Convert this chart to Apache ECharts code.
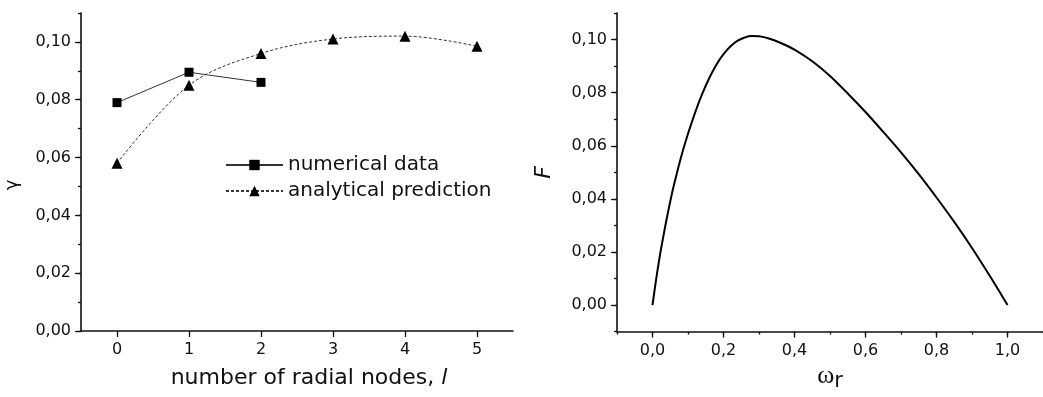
<!DOCTYPE html>
<html>
<head>
<meta charset="utf-8">
<script src="https://cdn.jsdelivr.net/npm/echarts@6/dist/echarts.min.js"></script>
<style>
  html, body { margin: 0; padding: 0; background: #fff; }
  #chart { width: 1043px; height: 397px; }
</style>
</head>
<body>
<div id="chart"></div>
<script>
  // left panel: growth rate vs number of radial nodes
  const nodeCategories = ['0', '1', '2', '3', '4', '5'];
  const numericalGamma = [0.079, 0.0895, 0.086];
  const analyticalGamma = [0.058, 0.085, 0.096, 0.101, 0.102, 0.0985];
  const gammaTicks = [0, 0.02, 0.04, 0.06, 0.08, 0.10];

  // right panel: F(omega_r)
  const omegaR = [0, 0.01, 0.02, 0.03, 0.04, 0.05, 0.06, 0.08, 0.10, 0.12, 0.14, 0.16, 0.18, 0.20, 0.22, 0.24, 0.26, 0.28,
                  0.30, 0.33, 0.36, 0.40, 0.45, 0.50, 0.55, 0.60, 0.65, 0.70, 0.75, 0.80, 0.85, 0.90, 0.95, 1.0];
  const fValues = [0, 0.0095, 0.018, 0.0255, 0.0325, 0.039, 0.045, 0.0555, 0.0645, 0.0725, 0.0795, 0.0855, 0.0905, 0.0945,
                   0.0975, 0.0996, 0.1008, 0.1013, 0.1012, 0.1003, 0.0988, 0.0962, 0.0918, 0.0863, 0.0797, 0.0727, 0.0652,
                   0.0575, 0.0493, 0.0405, 0.0313, 0.0215, 0.011, 0];
  const omegaTicks = [0, 0.2, 0.4, 0.6, 0.8, 1.0];
  const fTicks = [0, 0.02, 0.04, 0.06, 0.08, 0.10];

  const ink = '#111';
  const font = 'DejaVu Sans';

  let chart = echarts.init(document.getElementById('chart'), null, { renderer: 'canvas' });

  function comma(digits) {
    return function (v) { return Number(v).toFixed(digits).replace('.', ','); };
  }

  let axisLine = { show: true, onZero: false, lineStyle: { color: ink, width: 1.6 } };
  let minorTick = { show: true, inside: false, length: 3, lineStyle: { color: ink, width: 1.3 } };
  let tickLabel = { color: ink, fontFamily: font, fontSize: 16 };

  let option = {
    animation: false,
    backgroundColor: '#fff',
    grid: [
      { left: 81, top: 13, width: 432, height: 318 },
      { left: 617, top: 13, width: 432, height: 319 }
    ],
    legend: {
      left: 220,
      top: 150,
      orient: 'vertical',
      itemWidth: 57,
      itemHeight: 13,
      itemGap: 6,
      textStyle: { color: ink, fontFamily: font, fontSize: 20 },
      data: ['numerical data', 'analytical prediction']
    },
    xAxis: [
      {
        gridIndex: 0,
        type: 'category',
        data: nodeCategories,
        boundaryGap: true,
        position: 'bottom',
        axisLine,
        axisTick: { show: true, alignWithLabel: true, inside: false, length: 6, lineStyle: { color: ink, width: 1.3 } },
        axisLabel: Object.assign({ margin: 11 }, tickLabel),
        splitLine: { show: false },
        name: 'number of radial nodes, {i|l}',
        nameLocation: 'middle',
        nameGap: 36,
        nameTextStyle: {
          color: ink, fontFamily: font, fontSize: 22, padding: [0, 0, 0, 24],
          rich: { i: { fontFamily: font, fontSize: 22, fontStyle: 'italic', color: ink } }
        }
      },
      {
        gridIndex: 1,
        type: 'value',
        min: -0.1,
        max: 1.1,
        interval: 0.1,
        position: 'bottom',
        axisLine,
        axisTick: minorTick,
        axisLabel: { show: false },
        splitLine: { show: false }
      },
      {
        gridIndex: 1,
        type: 'value',
        min: -0.1,
        max: 1.1,
        interval: 0.1,
        position: 'bottom',
        axisLine: { show: false, onZero: false },
        axisTick: { show: true, inside: false, length: 6, customValues: omegaTicks, lineStyle: { color: ink, width: 1.3 } },
        axisLabel: Object.assign({ margin: 11, customValues: omegaTicks, formatter: comma(1) }, tickLabel),
        splitLine: { show: false },
        name: '{w|ω}{r|r}',
        nameLocation: 'middle',
        nameGap: 26,
        nameTextStyle: {
          rich: {
            w: { fontFamily: 'Liberation Serif', fontSize: 26, color: ink },
            r: { fontFamily: font, fontSize: 21, color: ink, padding: [10, 0, 0, 0] }
          }
        }
      }
    ],
    yAxis: [
      {
        gridIndex: 0,
        type: 'value',
        min: 0,
        max: 0.11,
        interval: 0.01,
        position: 'left',
        axisLine,
        axisTick: minorTick,
        axisLabel: { show: false },
        splitLine: { show: false }
      },
      {
        gridIndex: 0,
        type: 'value',
        min: 0,
        max: 0.11,
        interval: 0.01,
        position: 'left',
        axisLine: { show: false, onZero: false },
        axisTick: { show: true, inside: false, length: 6, customValues: gammaTicks, lineStyle: { color: ink, width: 1.3 } },
        axisLabel: Object.assign({ margin: 10, customValues: gammaTicks, formatter: comma(2) }, tickLabel),
        splitLine: { show: false },
        name: 'γ',
        nameLocation: 'middle',
        nameRotate: 90,
        nameGap: 60,
        nameTextStyle: { color: ink, fontFamily: font, fontSize: 18, padding: [0, 26, 0, 0] }
      },
      {
        gridIndex: 1,
        type: 'value',
        min: -0.01,
        max: 0.11,
        interval: 0.01,
        position: 'left',
        axisLine,
        axisTick: minorTick,
        axisLabel: { show: false },
        splitLine: { show: false }
      },
      {
        gridIndex: 1,
        type: 'value',
        min: -0.01,
        max: 0.11,
        interval: 0.01,
        position: 'left',
        axisLine: { show: false, onZero: false },
        axisTick: { show: true, inside: false, length: 6, customValues: fTicks, lineStyle: { color: ink, width: 1.3 } },
        axisLabel: Object.assign({ margin: 10, customValues: fTicks, formatter: comma(2) }, tickLabel),
        splitLine: { show: false },
        name: 'F',
        nameLocation: 'middle',
        nameRotate: 90,
        nameGap: 62,
        nameTextStyle: { color: ink, fontFamily: font, fontSize: 22, fontStyle: 'italic' }
      }
    ],
    series: [
      {
        name: 'numerical data',
        type: 'line',
        xAxisIndex: 0,
        yAxisIndex: 0,
        data: numericalGamma,
        symbol: 'rect',
        symbolSize: 9,
        itemStyle: { color: '#000' },
        lineStyle: { color: '#333', width: 1 },
        z: 3
      },
      {
        name: 'analytical prediction',
        type: 'line',
        xAxisIndex: 0,
        yAxisIndex: 0,
        data: analyticalGamma,
        smooth: 0.35,
        symbol: 'triangle',
        symbolSize: 11,
        itemStyle: { color: '#000' },
        lineStyle: { color: '#333', width: 1, type: [3, 2] },
        z: 2
      },
      {
        name: 'F',
        type: 'line',
        xAxisIndex: 1,
        yAxisIndex: 2,
        data: omegaR.map(function (w, i) { return [w, fValues[i]]; }),
        smooth: 0.3,
        showSymbol: false,
        lineStyle: { color: '#000', width: 2 }
      }
    ]
  };

  chart.setOption(option);
</script>
</body>
</html>
